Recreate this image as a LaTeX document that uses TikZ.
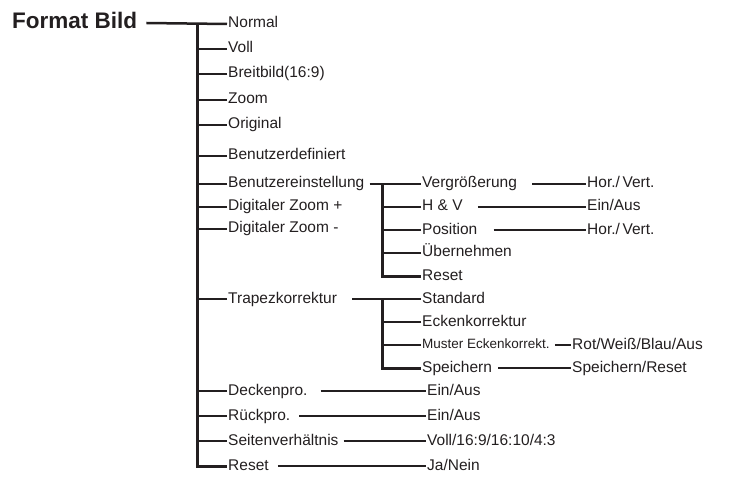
\documentclass[tikz,border=0pt]{standalone}
\usepackage{fontspec}
\setmainfont{Liberation Sans}
\definecolor{ink}{HTML}{231F20}

\begin{document}
\begin{tikzpicture}[
    x=1pt, y=-1pt,
    item/.style={anchor=west, inner xsep=1pt, inner ysep=0pt, text height=11pt, text depth=3pt, text=ink, font=\fontsize{15.5}{18}\selectfont},
    small/.style={item, text height=9.5pt, text depth=2.5pt, font=\fontsize{13.5}{16}\selectfont},
    title/.style={anchor=west, inner sep=0pt, text height=16pt, text depth=4pt, text=ink, font=\fontsize{22.5}{26}\selectfont\bfseries},
    link/.style={line width=2.5pt, draw=ink},
    trunk/.style={line width=3pt, draw=ink, line join=miter}
]
\useasboundingbox (0,0) rectangle (729,484);

% root
\node[title] (bild) at (12,23) {Format Bild};

% first level
\node[item] (normal) at (227,24) {Normal};
\node[item] (voll) at (227,49) {Voll};
\node[item] (breit) at (227,74) {Breitbild(16:9)};
\node[item] (zoom) at (227,100) {Zoom};
\node[item] (orig) at (227,125) {Original};
\node[item] (bdef) at (227,156) {Benutzerdefiniert};
\node[item] (beinst) at (227,184) {Benutzereinstellung};
\node[item] (dzp) at (227,207) {Digitaler Zoom +};
\node[item] (dzm) at (227,229) {Digitaler Zoom -};
\node[item] (trapez) at (227,299) {Trapezkorrektur};
\node[item] (decke) at (227,391) {Deckenpro.};
\node[item] (rueck) at (227,416) {Rückpro.};
\node[item] (seite) at (227,441) {Seitenverhältnis};
\node[item] (reset) at (227,466) {Reset};

% second level
\node[item] (vergr) at (421,184) {Vergrößerung};
\node[item] (hv) at (421,207) {H \& V};
\node[item] (pos) at (421,230) {Position};
\node[item] (uebern) at (421,253) {Übernehmen};
\node[item] (resetb) at (421,276) {Reset};
\node[item] (std) at (421,299) {Standard};
\node[item] (ecke) at (421,322) {Eckenkorrektur};
\node[small] (muster) at (421,345) {Muster Eckenkorrekt.};
\node[item] (speich) at (421,368) {Speichern};

% values
\node[item] (hvert) at (586,184) {Hor./\,Vert.};
\node[item] (hvein) at (586,207) {Ein/Aus};
\node[item] (pvert) at (586,230) {Hor./\,Vert.};
\node[item] (farbe) at (571,345) {Rot/Weiß/Blau/Aus};
\node[item] (spres) at (571,368) {Speichern/Reset};
\node[item] (deein) at (426,391) {Ein/Aus};
\node[item] (rueein) at (426,416) {Ein/Aus};
\node[item] (ratio) at (426,441) {Voll/16:9/16:10/4:3};
\node[item] (janein) at (426,466) {Ja/Nein};

% tree lines
\draw[link] ([xshift=9pt]bild.east) -- (normal.west);
\draw[trunk] (normal.west) ++(-30,0) |- (reset.west);
\foreach \n in {voll,breit,zoom,orig,bdef,beinst,dzp,dzm,trapez,decke,rueck,seite}
    \draw[link] (\n.west) -- ++(-30,0);

\draw[link] ([xshift=4pt]beinst.east) -- (vergr.west);
\draw[trunk] (vergr.west) ++(-39,0) |- (resetb.west);
\foreach \n in {hv,pos,uebern}
    \draw[link] (\n.west) -- ++(-39,0);

\draw[link] ([xshift=14pt]trapez.east) -- (std.west);
\draw[trunk] (std.west) ++(-39,0) |- (speich.west);
\foreach \n in {ecke,muster}
    \draw[link] (\n.west) -- ++(-39,0);

\draw[link] ([xshift=14pt]vergr.east) -- (hvert.west);
\draw[link] ([xshift=14pt]hv.east) -- (hvein.west);
\draw[link] ([xshift=15pt]pos.east) -- (pvert.west);
\draw[link] ([xshift=4pt]muster.east) -- (farbe.west);
\draw[link] ([xshift=5pt]speich.east) -- (spres.west);

\draw[link] ([xshift=12pt]decke.east) -- (deein.west);
\draw[link] ([xshift=8pt]rueck.east) -- (rueein.west);
\draw[link] ([xshift=4pt]seite.east) -- (ratio.west);
\draw[link] ([xshift=8pt]reset.east) -- (janein.west);
\end{tikzpicture}
\end{document}
